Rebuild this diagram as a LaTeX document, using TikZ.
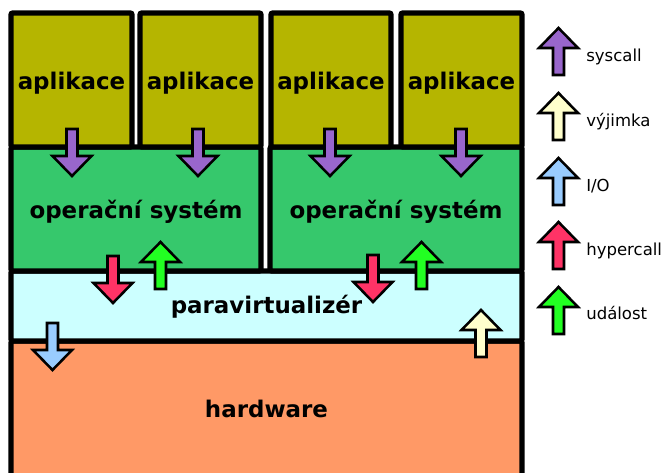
\documentclass[tikz,border=0pt]{standalone}
\usepackage{fontspec}
\setmainfont{DejaVu Sans}
\definecolor{appc}{HTML}{B5B500}
\definecolor{osc}{HTML}{36C86C}
\definecolor{parac}{HTML}{CCFFFF}
\definecolor{hwc}{HTML}{FF9966}
\definecolor{purplec}{HTML}{9966CC}
\definecolor{creamc}{HTML}{FFFFCC}
\definecolor{bluec}{HTML}{99CCFF}
\definecolor{redc}{HTML}{FF3366}
\definecolor{greenc}{HTML}{22FF22}
\newcommand{\blockarrow}[4]{\path[blk,fill=#3,shift={(#1,#2)},yscale=#4] (0,0) -- (19.5,20) -- (5.5,20) -- (5.5,47) -- (-5.5,47) -- (-5.5,20) -- (-19.5,20) -- cycle;}
\begin{document}
\begin{tikzpicture}[x=0.75pt,y=-0.75pt,
 box/.style={draw=black,line width=4.1pt,rounded corners=1.5pt},
 blk/.style={draw=black,line width=1.9pt,line join=miter},
 lbl/.style={font=\bfseries\fontsize{17.2}{20}\selectfont,anchor=base,inner sep=0pt},
 leg/.style={font=\fontsize{12.4}{15}\selectfont,anchor=base west,inner sep=0pt}]
\useasboundingbox[fill=white] (0,0) rectangle (663,473);
\begin{scope}
\clip (0,0) rectangle (663,473);
\path[box,fill=hwc] (11,341) rectangle (522,500);
\path[box,fill=parac] (11,271) rectangle (522,341);
\path[box,fill=osc] (11,147) rectangle (261,271);
\path[box,fill=osc] (270,147) rectangle (522,271);
\path[box,fill=appc] (11,13) rectangle (132,147);
\path[box,fill=appc] (140,13) rectangle (261,147);
\path[box,fill=appc] (271,13) rectangle (391,147);
\path[box,fill=appc] (401,13) rectangle (522,147);
\end{scope}
\node[lbl] (app1) at (71.5,90) {aplikace};
\node[lbl] (app2) at (200.5,90) {aplikace};
\node[lbl] (app3) at (331,90) {aplikace};
\node[lbl] (app4) at (461.5,90) {aplikace};
\node[lbl] (os1) at (136,219) {operační systém};
\node[lbl] (os2) at (396,219) {operační systém};
\node[lbl] (para) at (266.5,313.5) {paravirtualizér};
\node[lbl] (hw) at (266.5,417) {hardware};
% arrows in diagram
\blockarrow{72}{176}{purplec}{-1}
\blockarrow{198}{176}{purplec}{-1}
\blockarrow{330}{176}{purplec}{-1}
\blockarrow{461}{176}{purplec}{-1}
\blockarrow{113}{303}{redc}{-1}
\blockarrow{373}{302}{redc}{-1}
\blockarrow{160.5}{242}{greenc}{1}
\blockarrow{421.5}{242}{greenc}{1}
\blockarrow{52.5}{370}{bluec}{-1}
\blockarrow{481}{310}{creamc}{1}
% legend
\blockarrow{558.5}{28}{purplec}{1}
\blockarrow{558.5}{93}{creamc}{1}
\blockarrow{558.5}{158}{bluec}{1}
\blockarrow{558.5}{222}{redc}{1}
\blockarrow{558.5}{287}{greenc}{1}
\node[leg] (l1) at (586,62) {syscall};
\node[leg] (l2) at (586,127) {výjimka};
\node[leg] (l3) at (586,192) {I/O};
\node[leg] (l4) at (586,256) {hypercall};
\node[leg] (l5) at (586,320) {událost};
\end{tikzpicture}
\end{document}
